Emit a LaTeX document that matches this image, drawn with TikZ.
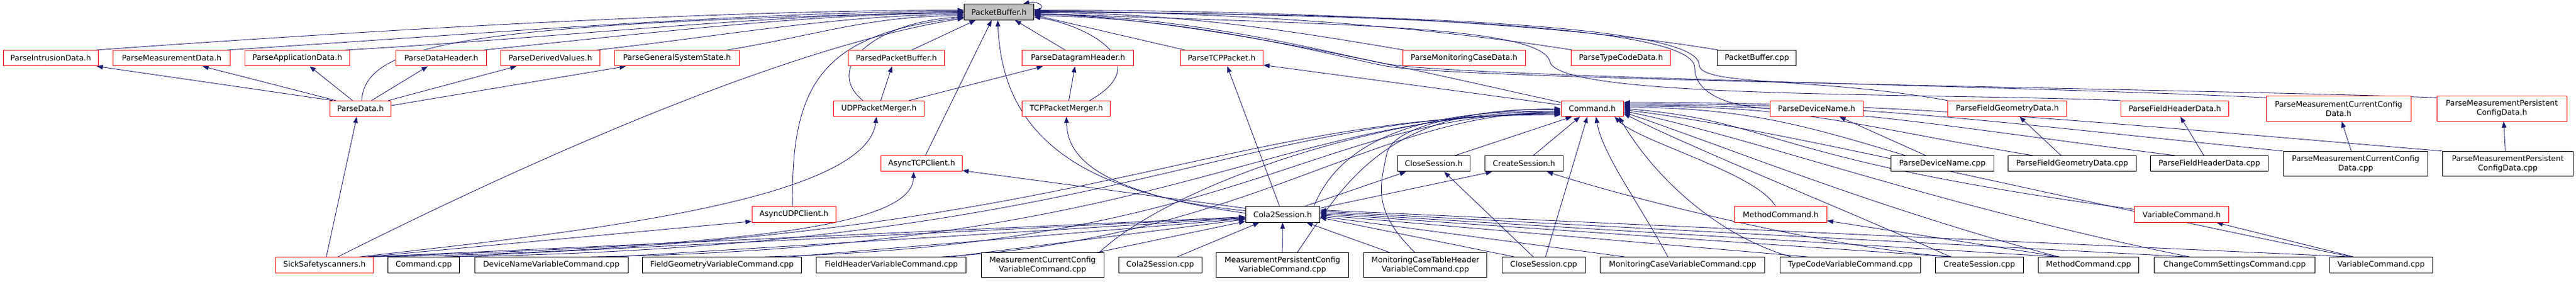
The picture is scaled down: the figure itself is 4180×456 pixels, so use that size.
\documentclass[tikz,border=0pt]{standalone}
\usepackage{fontspec}
\newfontfamily\dfont{DejaVu Sans}
\usetikzlibrary{arrows.meta,calc}
\pgfdeclarelayer{bg}
\pgfsetlayers{bg,main}
\definecolor{mblue}{HTML}{191970}
\definecolor{dred}{HTML}{FF0000}
\definecolor{pbgray}{HTML}{BFBFBF}
\tikzset{
  box/.style={rectangle, fill=white, inner sep=0pt, align=center, line width=1pt,
    font=\dfont\fontsize{12.5pt}{15pt}\selectfont, minimum height=25.4pt},
  rbox/.style={box, draw=dred},
  kbox/.style={box, draw=black},
  edge/.style={draw=mblue, line width=0.85pt, -{Triangle[length=10pt,width=7.5pt]}},
}
\begin{document}
\begin{tikzpicture}[x=1pt,y=-1pt]
\useasboundingbox (0,0) rectangle (4180,456);
% ---------- row 1
\node[box, draw=black, fill=pbgray, minimum width=113.4pt, minimum height=25.6pt] (PB) at (1621,19.5) {PacketBuffer.h};
% ---------- row 2
\node[rbox, minimum width=154pt]   (PID)  at (82.4,94.2)  {ParseIntrusionData.h};
\node[rbox, minimum width=189.3pt] (PMD)  at (278.6,94.2) {ParseMeasurementData.h};
\node[rbox, minimum width=170.1pt] (PAD)  at (482.4,94.2) {ParseApplicationData.h};
\node[rbox, minimum width=146.4pt] (PDH)  at (716.1,94.2) {ParseDataHeader.h};
\node[rbox, minimum width=160.3pt] (PDV)  at (893,94.2)   {ParseDerivedValues.h};
\node[rbox, minimum width=202.3pt] (PGS)  at (1098.5,94.2) {ParseGeneralSystemState.h};
\node[rbox, minimum width=156.3pt] (PPB)  at (1454.5,94.2) {ParsedPacketBuffer.h};
\node[rbox, minimum width=180.8pt] (PDG)  at (1749.3,94.2) {ParseDatagramHeader.h};
\node[rbox, minimum width=134.4pt] (PTCP) at (1982.4,94.2) {ParseTCPPacket.h};
\node[rbox, minimum width=198.7pt] (PMC)  at (2375.7,94.2) {ParseMonitoringCaseData.h};
\node[rbox, minimum width=161.1pt] (PTC)  at (2630.2,94.2) {ParseTypeCodeData.h};
\node[kbox, minimum width=128.1pt] (PBC)  at (2850.7,94.2) {PacketBuffer.cpp};
% ---------- row 3
\node[rbox, minimum width=99.5pt]  (PD)   at (585,176)    {ParseData.h};
\node[rbox, minimum width=146.9pt] (UDP)  at (1426.2,176) {UDPPacketMerger.h};
\node[rbox, minimum width=142.9pt] (TCP)  at (1730.4,176) {TCPPacketMerger.h};
\node[rbox, minimum width=101.4pt] (CMD)  at (2583.7,176) {Command.h};
\node[rbox, minimum width=150.9pt] (PDN)  at (2947.8,176) {ParseDeviceName.h};
\node[rbox, minimum width=192.9pt] (PFG)  at (3257.2,176) {ParseFieldGeometryData.h};
\node[rbox, minimum width=175.1pt] (PFH)  at (3529,176)   {ParseFieldHeaderData.h};
\node[rbox, minimum width=234.8pt, minimum height=40.6pt] (PMCC) at (3794.7,176) {ParseMeasurementCurrentConfig\\Data.h};
\node[rbox, minimum width=211.2pt, minimum height=40.6pt] (PMPC) at (4059.7,176) {ParseMeasurementPersistent\\ConfigData.h};
% ---------- row 4
\node[rbox, minimum width=131.3pt] (ATCP) at (1495.6,265.2) {AsyncTCPClient.h};
\node[kbox, minimum width=118.7pt] (CSH)  at (2326.4,265.2) {CloseSession.h};
\node[kbox, minimum width=127.2pt] (CRH)  at (2473,265.2)   {CreateSession.h};
\node[kbox, minimum width=167pt]   (PDNC) at (3151.8,265.2) {ParseDeviceName.cpp};
\node[kbox, minimum width=207.2pt] (PFGC) at (3362.5,265.2) {ParseFieldGeometryData.cpp};
\node[kbox, minimum width=190.6pt] (PFHC) at (3585.1,265.2) {ParseFieldHeaderData.cpp};
\node[kbox, minimum width=234.8pt, minimum height=40pt] (PMCCC) at (3822.4,265.3) {ParseMeasurementCurrentConfig\\Data.cpp};
\node[kbox, minimum width=211.6pt, minimum height=40pt] (PMPCC) at (4069.3,265.3) {ParseMeasurementPersistent\\ConfigData.cpp};
% ---------- row 5
\node[rbox, minimum width=136.2pt] (AUDP) at (1288.2,347.5) {AsyncUDPClient.h};
\node[kbox, minimum width=120.5pt] (C2S)  at (2081.3,347.5) {Cola2Session.h};
\node[rbox, minimum width=149.6pt] (MCH)  at (2889.5,347.5) {MethodCommand.h};
\node[rbox, minimum width=152.4pt] (VCH)  at (3540,347.5)   {VariableCommand.h};
% ---------- row 6
\node[rbox, minimum width=158.5pt] (SSS)  at (526.5,429.3)  {SickSafetyscanners.h};
\node[kbox, minimum width=116.5pt] (CCPP) at (687.7,429.3)  {Command.cpp};
\node[kbox, minimum width=249.1pt] (DNV)  at (894.6,429.3)  {DeviceNameVariableCommand.cpp};
\node[kbox, minimum width=258.5pt] (FGV)  at (1171.6,429.3) {FieldGeometryVariableCommand.cpp};
\node[kbox, minimum width=242.9pt] (FHV)  at (1446.4,429.3) {FieldHeaderVariableCommand.cpp};
\node[kbox, minimum width=198.7pt, minimum height=39.6pt] (MCCV) at (1691.7,429.5) {MeasurementCurrentConfig\\VariableCommand.cpp};
\node[kbox, minimum width=134.8pt] (C2SC) at (1882.6,429.3) {Cola2Session.cpp};
\node[kbox, minimum width=214.7pt, minimum height=39.6pt] (MPCV) at (2081,429.5) {MeasurementPersistentConfig\\VariableCommand.cpp};
\node[kbox, minimum width=200pt, minimum height=39.6pt] (MCTH) at (2312.9,429.5) {MonitoringCaseTableHeader\\VariableCommand.cpp};
\node[kbox, minimum width=134.8pt] (CSC)  at (2504.9,429.3) {CloseSession.cpp};
\node[kbox, minimum width=266.9pt] (MCV)  at (2730.3,429.3) {MonitoringCaseVariableCommand.cpp};
\node[kbox, minimum width=228.1pt] (TCV)  at (3002.4,429.3) {TypeCodeVariableCommand.cpp};
\node[kbox, minimum width=142.4pt] (CRC)  at (3211.8,429.3) {CreateSession.cpp};
\node[kbox, minimum width=163.9pt] (MCC)  at (3389,429.3)   {MethodCommand.cpp};
\node[kbox, minimum width=261.7pt] (CCS)  at (3626,429.3)   {ChangeCommSettingsCommand.cpp};
\node[kbox, minimum width=166.6pt] (VCC)  at (3863.7,429.3) {VariableCommand.cpp};

\begin{pgfonlayer}{bg}
\fill[white] (0,0) rectangle (4180,456);
% ================= edges into PacketBuffer.h (left side)
\draw[edge] ($(PID.north east)+(-4,0)$) .. controls +(420,-30) and +(-420,0) .. ($(PB.west)+(0,-3)$);
\draw[edge] ($(PMD.north east)+(-6,0)$) .. controls +(360,-22) and +(-360,0) .. ($(PB.west)+(0,-1)$);
\draw[edge] ($(PAD.north east)+(-8,0)$) .. controls +(300,-16) and +(-300,0) .. ($(PB.west)+(0,1)$);
\draw[edge] ($(PD.north)+(2,0)$) .. controls (592,70) and (760,38) .. ($(PB.west)+(0,0)$);
\draw[edge] ($(PDH.north east)+(-5,0)$) .. controls +(250,-25) and +(-250,0) .. ($(PB.west)+(0,2)$);
\draw[edge] ($(PDV.north east)+(-5,0)$) .. controls +(200,-22) and +(-200,0) .. ($(PB.west)+(0,4)$);
\draw[edge] ($(PGS.north east)+(-20,0)$) .. controls +(150,-25) and +(-150,0) .. ($(PB.west)+(0,6)$);
\draw[edge] ($(UDP.north)+(-26,0)$) .. controls (1335,110) and (1420,35) .. ($(PB.west)+(0,8)$);
\draw[edge] ($(AUDP.north)+(-2,0)$) .. controls (1283,140) and (1330,55) .. ($(PB.west)+(0,9)$);
\draw[edge] ($(SSS.north)+(22,0)$) .. controls (800,290) and (1250,80) .. ($(PB.west)+(0,10)$);
% bottom
\draw[edge] ($(PPB.north)+(25,0)$) -- ($(PB.south)+(-38,0)$);
\draw[edge] ($(ATCP.north)+(6,0)$) -- ($(PB.south)+(-12,0)$);
\draw[edge] ($(C2S.west)+(0,-6)$) .. controls (1700,310) and (1625,180) .. ($(PB.south)+(-2,0)$);
\draw[edge] ($(PDG.north)+(-21,0)$) -- ($(PB.south)+(26,0)$);
\draw[edge] ($(TCP.north east)+(-34,0)$) .. controls (1880,100) and (1760,40) .. ($(PB.east)+(0,8)$);
% right side
\draw[edge] ($(PTCP.north west)+(8,0)$) -- ($(PB.east)+(0,5)$);
\draw[edge] ($(CMD.north west)+(0,3)$) .. controls (2300,115) and (1950,30) .. ($(PB.east)+(0,3)$);
\draw[edge] ($(PMC.north west)+(2,0)$) .. controls +(-150,-25) and +(250,0) .. ($(PB.east)+(0,1)$);
\draw[edge] ($(PTC.north west)+(2,0)$) .. controls +(-250,-40) and +(300,0) .. ($(PB.east)+(0,-1)$);
\draw[edge] ($(PBC.north west)+(2,0)$) .. controls +(-300,-50) and +(350,0) .. ($(PB.east)+(0,-3)$);
\draw[edge] (PDN.west) .. controls (2800,172) and (2750,150) .. (2750,110)
   .. controls (2750,30) and (2100,25) .. ($(PB.east)+(0,-2)$);
\draw[edge] (PFG.north west) .. controls (2950,125) and (2758,140) .. (2757,105)
   .. controls (2756,30) and (2100,22) .. ($(PB.east)+(0,0)$);
\draw[edge] (PFH.north west) .. controls (3100,150) and (2530,160) .. (2515,100)
   .. controls (2500,40) and (2150,40) .. ($(PB.east)+(0,2)$);
\draw[edge] ($(PMCC.north west)+(0,3)$) .. controls (3300,140) and (2400,125) .. (2260,105)
   .. controls (2190,95) and (1950,25) .. ($(PB.east)+(0,4)$);
\draw[edge] ($(PMPC.north west)+(0,3)$) .. controls (3600,145) and (2400,130) .. (2255,108)
   .. controls (2190,98) and (1950,28) .. ($(PB.east)+(0,6)$);
% self loop
\draw[edge] ($(PB.east)+(0,-4)$) .. controls +(24,0) and +(26,-6) .. ($(PB.north east)+(-18,0)$);

% ================= ParseData.h
\draw[edge] ($(PD.north west)+(5,0)$) -- ($(PID.south east)+(-3,0)$);
\draw[edge] ($(PD.north west)+(10,0)$) -- ($(PMD.south)+(50,0)$);
\draw[edge] ($(PD.north)+(-13,0)$) -- ($(PAD.south)+(20,0)$);
\draw[edge] ($(PD.north)+(18,0)$) -- ($(PDH.south)+(-22,0)$);
\draw[edge] ($(PD.north east)+(-5,0)$) -- ($(PDV.south)+(-55,0)$);
\draw[edge] ($(PD.east)+(0,-5)$) -- ($(PGS.south)+(-83,0)$);
\draw[edge] ($(SSS.north)+(3,0)$) -- ($(PD.south)+(-6,0)$);

% ================= UDP / TCP merger, clients
\draw[edge] ($(UDP.north)+(3,0)$) -- ($(PPB.south)+(-7,0)$);
\draw[edge] ($(UDP.north east)+(-25,0)$) -- ($(PDG.south)+(-57,0)$);
\draw[edge] ($(SSS.north east)+(-22,0)$) .. controls (900,380) and (1405,330) .. ($(UDP.south)+(-4,0)$);
\draw[edge] ($(TCP.north)+(4,0)$) -- ($(PDG.south)+(-5,0)$);
\draw[edge] ($(C2S.west)+(0,-2)$) .. controls (1770,310) and (1732,250) .. (TCP.south);
\draw[edge] ($(C2S.north)+(-5,0)$) -- ($(PTCP.south)+(9,0)$);
\draw[edge] ($(CMD.west)+(0,-6)$) -- ($(PTCP.south east)+(0,-2)$);
\draw[edge] ($(C2S.west)+(0,-10)$) -- ($(ATCP.south east)+(0,-2)$);
\draw[edge] ($(SSS.north east)+(-15,0)$) .. controls (1100,400) and (1480,380) .. ($(ATCP.south)+(-13,0)$);
\draw[edge] ($(SSS.north east)+(-10,0)$) -- ($(AUDP.south west)+(0,-2)$);

% ================= Cola2Session.h
\draw[edge] ($(C2S.north east)+(-25,0)$) -- ($(CSH.south)+(-45,0)$);
\draw[edge] ($(C2S.north east)+(0,3)$) -- ($(CRH.south)+(-52,0)$);
\draw[edge] ($(C2S.north east)+(-10,0)$) .. controls +(60,-150) and +(-120,0) .. ($(CMD.west)+(0,4)$);
\draw[edge] ($(SSS.north east)+(-5,0)$) -- ($(C2S.west)+(0,4)$);
\draw[edge] ($(CCPP.north east)+(-15,0)$) -- ($(C2S.west)+(0,5)$);
\draw[edge] ($(DNV.north east)+(-20,0)$) -- ($(C2S.west)+(0,6)$);
\draw[edge] ($(FGV.north east)+(-20,0)$) -- ($(C2S.west)+(0,7)$);
\draw[edge] ($(FHV.north east)+(-25,0)$) -- ($(C2S.west)+(0,8)$);
\draw[edge] ($(MCCV.north east)+(-12,0)$) -- ($(C2S.south west)+(0,-2)$);
\draw[edge] ($(C2SC.north east)+(-40,0)$) -- ($(C2S.south)+(-38,0)$);
\draw[edge] (MPCV.north) -- (C2S.south);
\draw[edge] ($(MCTH.north west)+(43,0)$) -- ($(C2S.south east)+(-22,0)$);
\draw[edge] ($(CSC.north west)+(20,0)$) -- ($(C2S.east)+(0,5)$);
\draw[edge] ($(MCV.north west)+(40,0)$) -- ($(C2S.east)+(0,3)$);
\draw[edge] ($(TCV.north west)+(45,0)$) -- ($(C2S.east)+(0,1)$);
\draw[edge] ($(CRC.north west)+(25,0)$) -- ($(C2S.east)+(0,-1)$);
\draw[edge] ($(MCC.north)+(-50,0)$) -- ($(C2S.east)+(0,-3)$);
\draw[edge] ($(CCS.north west)+(55,0)$) -- ($(C2S.east)+(0,-5)$);
\draw[edge] ($(VCC.north)+(-50,0)$) -- ($(C2S.east)+(0,-7)$);

% ================= Command.h from the left
\draw[edge] ($(SSS.north east)+(-8,0)$) .. controls +(1161,-15) and +(-580,0) .. ($(CMD.west)+(0,10)$);
\draw[edge] ($(CCPP.north east)+(-25,0)$) .. controls +(1087,-15) and +(-544,0) .. ($(CMD.west)+(0,9)$);
\draw[edge] ($(DNV.north east)+(-60,0)$) .. controls +(944,-15) and +(-472,0) .. ($(CMD.west)+(0,8)$);
\draw[edge] ($(FGV.north east)+(-60,0)$) .. controls +(775,-20) and +(-388,0) .. ($(CMD.west)+(0,7)$);
\draw[edge] ($(FHV.north east)+(-40,0)$) .. controls +(503,-30) and +(-302,0) .. ($(CMD.west)+(0,6)$);
\draw[edge] ($(MCCV.north east)+(-8,0)$) .. controls (1900,300) and (2250,180) .. ($(CMD.west)+(0,5)$);
\draw[edge] ($(MPCV.north east)+(-84,0)$) .. controls (2180,300) and (2250,170) .. ($(CMD.west)+(0,2)$);
\draw[edge] ($(MCTH.north)+(-17,0)$) .. controls (2225,340) and (2240,300) .. (2250,250)
   .. controls (2260,200) and (2400,178) .. ($(CMD.west)+(0,0)$);
% from below
\draw[edge] ($(CSH.north east)+(-25,0)$) -- ($(CMD.south west)+(18,0)$);
\draw[edge] ($(CRH.north)+(15,0)$) -- ($(CMD.south)+(-20,0)$);
\draw[edge] ($(CSC.north)+(3,0)$) -- ($(CMD.south)+(-8,0)$);
\draw[edge] ($(MCV.north west)+(110,0)$) .. controls (2660,330) and (2600,250) .. ($(CMD.south)+(6,0)$);
\draw[edge] ($(TCV.north west)+(18,0)$) .. controls (2780,380) and (2680,280) .. ($(CMD.south east)+(-8,0)$);
\draw[edge] ($(MCH.north west)+(67,0)$) .. controls (2850,280) and (2660,230) .. ($(CMD.south east)+(-15,0)$);
% from the right
\draw[edge] ($(CRC.north west)+(25,0)$) .. controls +(-180,-80) and +(120,60) .. ($(CMD.south east)+(0,-5)$);
\draw[edge] ($(MCC.north)+(-49,0)$) .. controls +(-300,-80) and +(150,50) .. ($(CMD.east)+(0,6)$);
\draw[edge] ($(CCS.north west)+(58,0)$) .. controls +(-400,-80) and +(200,40) .. ($(CMD.east)+(0,4)$);
\draw[edge] ($(VCC.north)+(-48,0)$) .. controls +(-500,-100) and +(250,30) .. ($(CMD.east)+(0,2)$);
\draw[edge] ($(VCH.north west)+(0,5)$) .. controls +(-600,-80) and +(250,20) .. ($(CMD.east)+(0,0)$);
\draw[edge] ($(PDNC.north west)+(24,0)$) .. controls +(-150,-45) and +(200,0) .. ($(CMD.east)+(0,-2)$);
\draw[edge] ($(PFGC.north west)+(40,0)$) .. controls +(-300,-50) and +(300,0) .. ($(CMD.east)+(0,-4)$);
\draw[edge] ($(PFHC.north west)+(40,0)$) .. controls +(-400,-50) and +(350,0) .. ($(CMD.east)+(0,-6)$);
\draw[edge] (PMCCC.north west) .. controls +(-500,-50) and +(400,0) .. ($(CMD.east)+(0,-8)$);
\draw[edge] (PMPCC.north west) .. controls +(-600,-50) and +(450,0) .. ($(CMD.east)+(0,-10)$);

% ================= remaining
\draw[edge] ($(PDNC.north west)+(57,0)$) -- ($(PDN.south)+(37,0)$);
\draw[edge] ($(PFGC.north west)+(86,0)$) -- ($(PFG.south)+(20,0)$);
\draw[edge] ($(PFHC.north)+(-9,0)$) -- ($(PFH.south)+(9,0)$);
\draw[edge] ($(PMCCC.north)+(-7,0)$) -- ($(PMCC.south)+(5,0)$);
\draw[edge] ($(PMPCC.north)+(-4,0)$) -- ($(PMPC.south)+(3,0)$);
\draw[edge] ($(MCC.north)+(-47,0)$) -- ($(MCH.south east)+(0,-3)$);
\draw[edge] ($(VCC.north)+(-45,0)$) -- ($(VCH.south east)+(-20,0)$);
\draw[edge] ($(CSC.north)+(-17,0)$) -- ($(CSH.south)+(17,0)$);
\draw[edge] ($(CRC.north west)+(27,0)$) .. controls (2950,400) and (2640,320) .. ($(CRH.south east)+(-27,0)$);
\end{pgfonlayer}
\end{tikzpicture}
\end{document}
